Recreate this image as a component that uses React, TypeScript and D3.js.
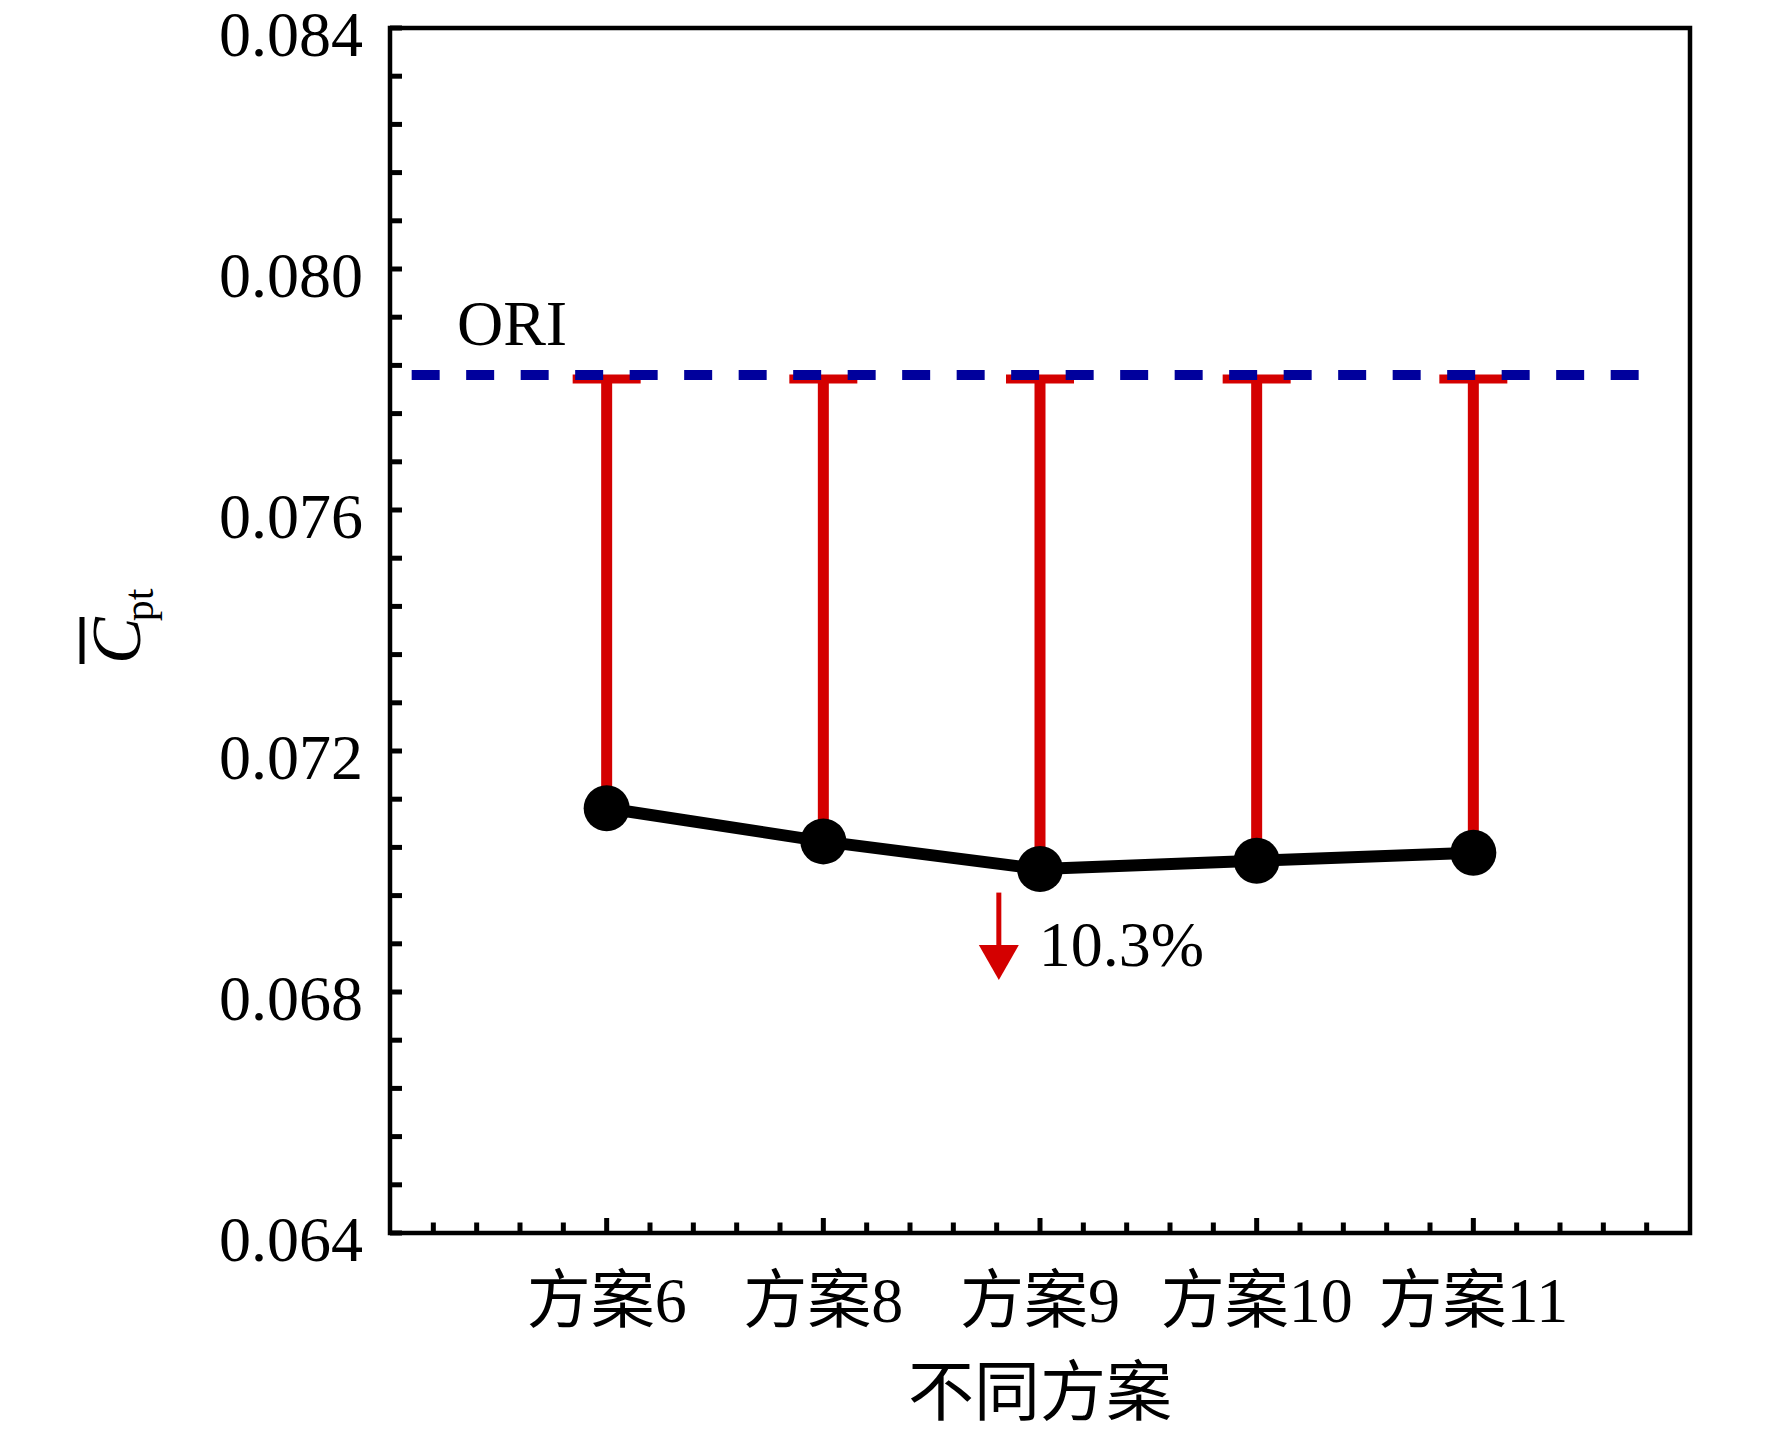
import React from "react";
import * as d3 from "d3";

// ---- data ----
const categories: string[] = ["方案6", "方案8", "方案9", "方案10", "方案11"];
const categoryPos: number[] = [1, 2, 3, 4, 5];
const cptValues: number[] = [0.07105, 0.0705, 0.07004, 0.07018, 0.07031];
const oriValue = 0.07824;
const yTickLabels: number[] = [0.064, 0.068, 0.072, 0.076, 0.08, 0.084];
const reductionLabel = "10.3%";
const oriLabel = "ORI";
const xTitle = "不同方案";

const W = 1772;
const H = 1436;
const L = 390, R = 1690, T = 28, B = 1233;

const SERIF = "'Liberation Serif', 'Times New Roman', 'Noto Sans CJK SC', serif";

export default function App() {
  const x = d3.scaleLinear().domain([0, 6]).range([L, R]);
  const y = d3.scaleLinear().domain([0.064, 0.084]).range([B, T]);

  const yMinor = d3.range(0, 26).map((i) => 0.064 + i * 0.0008);
  const xMinor = d3.range(0, 31).map((i) => i * 0.2);

  const line = d3
    .line<number>()
    .x((_, i) => x(categoryPos[i]))
    .y((d) => y(d));

  const yOri = y(oriValue);
  const arrowX = x(2.81);
  const arrowTop = y(0.06965);
  const arrowHeadTop = y(0.06878);
  const arrowTip = y(0.0682);

  return (
    <svg
      width={W}
      height={H}
      style={{ position: "absolute", left: 0, top: 0, background: "#fff" }}
      xmlns="http://www.w3.org/2000/svg"
    >
      <rect x={0} y={0} width={W} height={H} fill="#fff" />

      {/* red stems and caps */}
      {cptValues.map((v, i) => (
        <g key={"stem" + i}>
          <line
            x1={x(categoryPos[i])}
            x2={x(categoryPos[i])}
            y1={yOri + 4}
            y2={y(v)}
            stroke="#d40000"
            strokeWidth={11}
          />
          <line
            x1={x(categoryPos[i]) - 34}
            x2={x(categoryPos[i]) + 34}
            y1={yOri + 4}
            y2={yOri + 4}
            stroke="#d40000"
            strokeWidth={9}
          />
        </g>
      ))}

      {/* ORI dashed reference */}
      <line
        x1={x(0.1)}
        x2={x(5.77)}
        y1={yOri}
        y2={yOri}
        stroke="#00009c"
        strokeWidth={10}
        strokeDasharray="28 26.5"
      />
      <text x={x(0.309)} y={y(0.07874)} fontFamily={SERIF} fontSize={64} fill="#000">
        {oriLabel}
      </text>

      {/* black line and markers */}
      <path d={line(cptValues) || ""} fill="none" stroke="#000" strokeWidth={12} />
      {cptValues.map((v, i) => (
        <circle key={"pt" + i} cx={x(categoryPos[i])} cy={y(v)} r={23} fill="#000" />
      ))}

      {/* arrow annotation */}
      <line x1={arrowX} x2={arrowX} y1={arrowTop} y2={arrowHeadTop + 2} stroke="#d40000" strokeWidth={5} />
      <path
        d={`M${arrowX - 20},${arrowHeadTop} L${arrowX + 20},${arrowHeadTop} L${arrowX},${arrowTip} Z`}
        fill="#d40000"
      />
      <text x={arrowX + 40} y={y(0.06843)} fontFamily={SERIF} fontSize={64} fill="#000">
        {reductionLabel}
      </text>

      {/* frame */}
      <polyline
        points={`${L},${T} ${R},${T} ${R},${B} ${L},${B} ${L},${T}`}
        fill="none"
        stroke="#000"
        strokeWidth={4.5}
        strokeLinejoin="miter"
        strokeLinecap="square"
      />

      {/* y ticks */}
      {yMinor.map((v, i) => (
        <line key={"yt" + i} x1={L} x2={L + 12} y1={y(v)} y2={y(v)} stroke="#000" strokeWidth={5} />
      ))}
      {yTickLabels.map((v, i) => (
        <text
          key={"yl" + i}
          x={363}
          y={y(v) + 28}
          textAnchor="end"
          fontFamily={SERIF}
          fontSize={64}
          fill="#000"
        >
          {d3.format(".3f")(v)}
        </text>
      ))}

      {/* x ticks */}
      {xMinor.map((v, i) => {
        const major = i % 5 === 0;
        if (i === 0 || i === 30) return null;
        return (
          <line
            key={"xt" + i}
            x1={x(v)}
            x2={x(v)}
            y1={B}
            y2={B - (major ? 15 : 10.5)}
            stroke="#000"
            strokeWidth={5}
          />
        );
      })}
      {categories.map((c, i) => (
        <text
          key={"xl" + i}
          x={x(categoryPos[i])}
          y={1322}
          textAnchor="middle"
          fontFamily={SERIF}
          fontSize={64}
          fill="#000"
        >
          {c}
        </text>
      ))}
      <text
        x={(L + R) / 2}
        y={1415}
        textAnchor="middle"
        fontFamily={SERIF}
        fontSize={66}
        fill="#000"
      >
        {xTitle}
      </text>

      {/* y axis title: C̄pt */}
      <g transform="translate(140,664) rotate(-90)">
        <line x1={0} x2={47} y1={-58} y2={-58} stroke="#000" strokeWidth={5} />
        <text x={0} y={0} fontFamily={SERIF} fontSize={70} fill="#000">
          <tspan fontStyle="italic">C</tspan>
          <tspan fontSize={42} dy={13} dx={-4}>
            pt
          </tspan>
        </text>
      </g>
    </svg>
  );
}
